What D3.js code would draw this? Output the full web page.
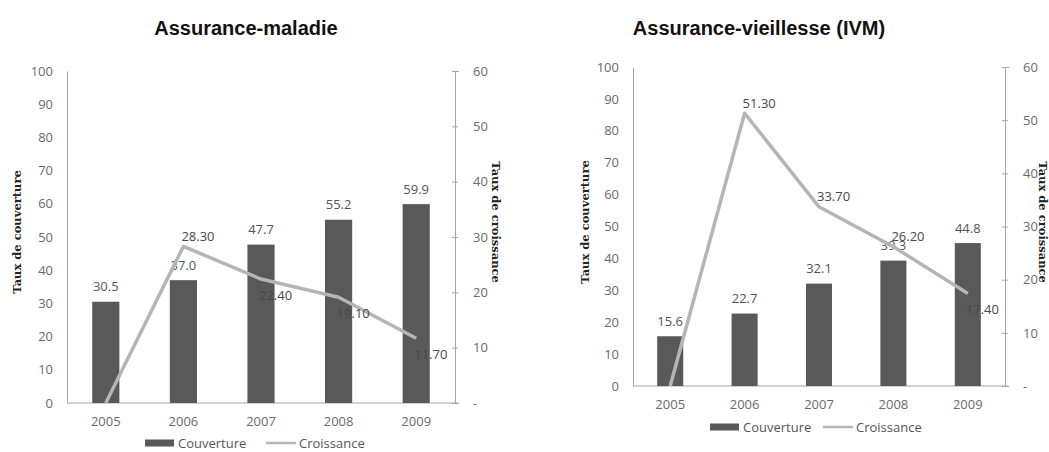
<!DOCTYPE html>
<html>
<head>
<meta charset="utf-8">
<script src="https://cdn.jsdelivr.net/npm/d3@7"></script>
<style>
  html, body { margin: 0; padding: 0; background: #fff; }
  svg { display: block; }
</style>
</head>
<body>
<svg id="chart" width="1049" height="452"></svg>
<script>
// Years on the category axis
const years = ["2005", "2006", "2007", "2008", "2009"];

// Assurance-maladie: coverage rate (bars) and growth rate (line)
const maladieCouverture = [30.5, 37.0, 47.7, 55.2, 59.9];
const maladieCroissance = [0, 28.30, 22.40, 19.10, 11.70];

// Assurance-vieillesse (IVM): coverage rate (bars) and growth rate (line)
const vieillesseCouverture = [15.6, 22.7, 32.1, 39.3, 44.8];
const vieillesseCroissance = [0, 51.30, 33.70, 26.20, 17.40];

// Axis ticks
const couvertureTicks = [0, 10, 20, 30, 40, 50, 60, 70, 80, 90, 100];
const croissanceTicks = [0, 10, 20, 30, 40, 50, 60];

// Where each growth label sits relative to its point
const maladieLabelSide = ["none", "above", "below", "below", "below"];
const vieillesseLabelSide = ["none", "above", "above", "above", "below"];

const svg = d3.select("#chart");
const tickFont = "'Open Sans', sans-serif";
const barColor = "#595959";
const lineColor = "#b5b5b5";
const axisColor = "#a6a6a6";

function drawPanel(p) {
  const g = svg.append("g");

  const x = d3.scaleBand().domain(years).range([p.left, p.right]).padding(0);
  const yL = d3.scaleLinear().domain([0, 100]).range([p.bottom, p.top]);
  const yR = d3.scaleLinear().domain([0, 60]).range([p.bottom, p.top]);
  const barW = x.bandwidth() * 0.35;
  const cx = i => x(years[i]) + x.bandwidth() / 2;

  // Title
  g.append("text")
    .attr("x", p.titleX).attr("y", 35)
    .attr("text-anchor", "middle")
    .style("font-family", "'Liberation Sans', Arial, sans-serif")
    .style("font-weight", "bold")
    .style("font-size", "20px")
    .style("fill", "#111")
    .text(p.title);

  // Left axis (coverage)
  const axL = d3.axisLeft(yL).tickValues(couvertureTicks).tickSize(0).tickPadding(14);
  const gL = g.append("g").attr("transform", `translate(${p.left},0)`).call(axL);
  gL.select(".domain").attr("stroke", axisColor);
  gL.selectAll("text").style("font-family", tickFont).style("font-size", "13px").style("fill", "#6a6a6a");

  // Right axis (growth)
  const axR = d3.axisRight(yR).tickValues(croissanceTicks).tickSize(4).tickPadding(14)
    .tickFormat(d => d === 0 ? "-" : d);
  const gR = g.append("g").attr("transform", `translate(${p.right},0)`).call(axR);
  gR.select(".domain").attr("stroke", axisColor);
  gR.selectAll(".tick line").attr("stroke", axisColor).attr("x1", -3).attr("x2", 3);
  gR.selectAll("text").style("font-family", tickFont).style("font-size", "13px").style("fill", "#6a6a6a");

  // Category axis
  const axX = d3.axisBottom(x).tickSize(0).tickPadding(14);
  const gX = g.append("g").attr("transform", `translate(0,${p.bottom})`).call(axX);
  gX.select(".domain").attr("stroke", axisColor).attr("d", `M${p.left},0H${p.right + 3}`);
  gX.selectAll("text").style("font-family", tickFont).style("font-size", "13px").style("fill", "#6a6a6a");

  // Axis titles
  g.append("text")
    .attr("transform", `translate(${p.leftTitleX},${p.leftTitleY}) rotate(-90)`)
    .attr("text-anchor", "middle").attr("dy", "0.35em")
    .style("font-family", "'DejaVu Serif', serif").style("font-weight", "bold")
    .style("font-size", "11.5px").style("fill", "#222")
    .text("Taux de couverture");
  g.append("text")
    .attr("transform", `translate(${p.rightTitleX},${p.rightTitleY}) rotate(90)`)
    .attr("text-anchor", "middle").attr("dy", "0.35em")
    .style("font-family", "'DejaVu Serif', serif").style("font-weight", "bold")
    .style("font-size", "11.5px").style("fill", "#222")
    .text("Taux de croissance");

  // Bars
  g.selectAll("rect.bar").data(p.couverture).join("rect")
    .attr("class", "bar")
    .attr("x", (d, i) => cx(i) - barW / 2)
    .attr("y", d => yL(d))
    .attr("width", barW)
    .attr("height", d => yL(0) - yL(d))
    .attr("fill", barColor);

  // Bar value labels
  g.selectAll("text.barlab").data(p.couverture).join("text")
    .attr("class", "barlab")
    .attr("x", (d, i) => cx(i))
    .attr("y", d => yL(d) - 15)
    .attr("dy", "0.35em")
    .attr("text-anchor", "middle")
    .style("font-family", tickFont).style("font-size", "13px").style("fill", "#555")
    .text(d => d.toFixed(1));

  // Growth line
  const line = d3.line().x((d, i) => cx(i)).y(d => yR(d));
  g.append("path")
    .datum(p.croissance)
    .attr("d", line)
    .attr("fill", "none")
    .attr("stroke", lineColor)
    .attr("stroke-width", 3.5)
    .attr("stroke-linejoin", "round");

  // Growth value labels
  const pts = p.croissance.map((v, i) => ({ v, i, side: p.labelSide[i] }))
    .filter(d => d.side !== "none");
  g.selectAll("text.linelab").data(pts).join("text")
    .attr("class", "linelab")
    .attr("x", d => cx(d.i) - 2)
    .attr("y", d => yR(d.v) + (d.side === "above" ? -10 : 16))
    .attr("dy", "0.35em")
    .attr("text-anchor", "start")
    .style("font-family", tickFont).style("font-size", "13px").style("fill", "#474747")
    .text(d => d.v.toFixed(2));

  // Legend
  const lg = g.append("g").attr("transform", `translate(${p.legendX},${p.legendY})`);
  lg.append("rect").attr("x", 0).attr("y", -3.5).attr("width", 29).attr("height", 7).attr("fill", barColor);
  lg.append("text").attr("x", 33).attr("y", 0).attr("dy", "0.35em")
    .style("font-family", tickFont).style("font-size", "13px").style("fill", "#555")
    .text("Couverture");
  lg.append("line").attr("x1", p.legendGap).attr("x2", p.legendGap + 30).attr("y1", 0).attr("y2", 0)
    .attr("stroke", lineColor).attr("stroke-width", 2.5);
  lg.append("text").attr("x", p.legendGap + 33).attr("y", 0).attr("dy", "0.35em")
    .style("font-family", tickFont).style("font-size", "13px").style("fill", "#555")
    .text("Croissance");
}

drawPanel({
  title: "Assurance-maladie", titleX: 246,
  left: 67, right: 455, top: 71, bottom: 403,
  couverture: maladieCouverture, croissance: maladieCroissance, labelSide: maladieLabelSide,
  leftTitleX: 17, leftTitleY: 232, rightTitleX: 496, rightTitleY: 222,
  legendX: 145, legendY: 443, legendGap: 121
});

drawPanel({
  title: "Assurance-vieillesse (IVM)", titleX: 759,
  left: 633, right: 1005, top: 67, bottom: 386,
  couverture: vieillesseCouverture, croissance: vieillesseCroissance, labelSide: vieillesseLabelSide,
  leftTitleX: 585, leftTitleY: 222, rightTitleX: 1043, rightTitleY: 222,
  legendX: 710, legendY: 427, legendGap: 113
});
</script>
</body>
</html>
